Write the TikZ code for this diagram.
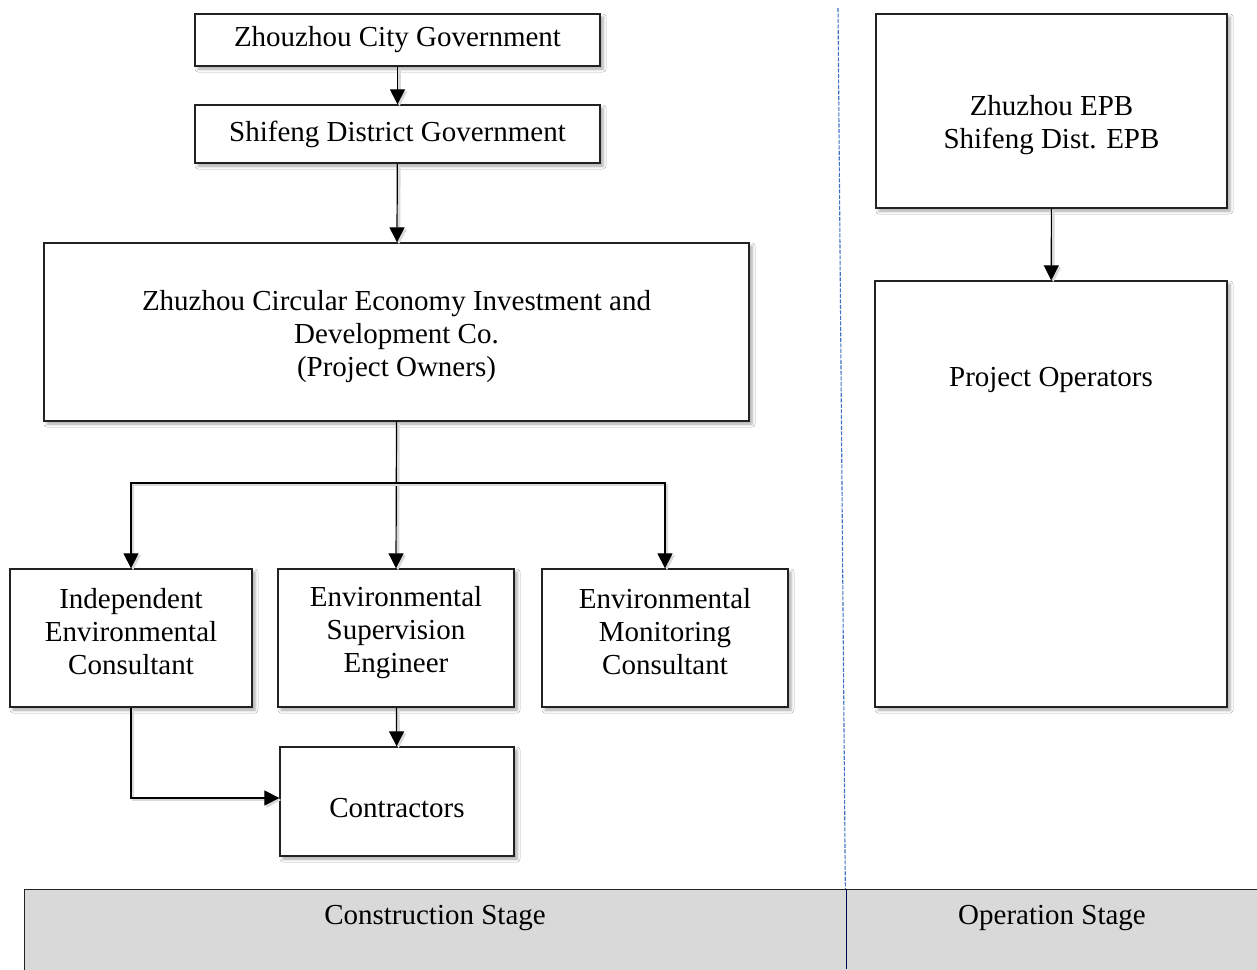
\documentclass[tikz,border=0pt]{standalone}
\usepackage{fontspec}
\setmainfont{Liberation Serif}
\usetikzlibrary{arrows.meta,shadows.blur}
\definecolor{bandgray}{HTML}{D9D9D9}
\definecolor{dashblue}{HTML}{3F73C2}
\definecolor{boxline}{HTML}{222222}
\tikzset{
  box/.style={draw=boxline, line width=1.3pt, fill=white, rectangle, inner sep=0pt,
    blur shadow={shadow xshift=3pt, shadow yshift=-3pt, shadow blur radius=3pt, shadow opacity=35}},
  txt/.style={font=\fontsize{29}{33}\selectfont, align=center, inner sep=0pt, text=black},
  lineshadow/.style={preaction={draw=black!15, line width=2.5pt, transform canvas={shift={(2pt,-2pt)}}}},
  arr/.style={line width=1.2pt, lineshadow, -{Triangle[width=15pt,length=15pt]}},
  conn/.style={line width=1.2pt, lineshadow},
}
\begin{document}
\begin{tikzpicture}[x=1pt,y=-1pt]
\useasboundingbox (0,0) rectangle (1257,969);
\fill[white] (0,0) rectangle (1257,969);

% divider line
\coordinate (dtop) at (838,8);
\coordinate (dbot) at (846,969);
\draw[dashblue, line width=1.1pt, dash pattern=on 4pt off 1.5pt] (dtop) -- (dbot);

% left column boxes
\node[box, txt, minimum width=405pt, minimum height=52pt] (cg) at (397.5,40) {Zhouzhou City Government};
\node[box, txt, minimum width=405pt, minimum height=58pt] (sd) at (397.5,134) {Shifeng District Government};
\node[box, minimum width=705pt, minimum height=178pt] (own) at (396.5,332) {};
\node[txt] (ownT) at (396.5,337) {Zhuzhou Circular Economy Investment and\\Development Co.\\(Project Owners)};

\node[box, minimum width=242pt, minimum height=138pt] (iec) at (131,638) {};
\node[txt] (iecT) at (131,632) {Independent\\Environmental\\Consultant};
\node[box, minimum width=236pt, minimum height=138pt] (ese) at (396,638) {};
\node[txt] (eseT) at (396,633) {Environmental\\Supervision\\Engineer};
\node[box, minimum width=246pt, minimum height=138pt] (emc) at (665,638) {};
\node[txt] (emcT) at (665,632) {Environmental\\Monitoring\\Consultant};

\node[box, minimum width=234pt, minimum height=109pt] (con) at (397,801.5) {};
\node[txt, anchor=base] (conT) at (397,817) {Contractors};

% right column boxes
\node[box, minimum width=351pt, minimum height=194pt] (epb) at (1051.5,111) {};
\node[txt] (epbT) at (1051.5,125) {Zhuzhou EPB\\Shifeng Dist. EPB};
\node[box, minimum width=352pt, minimum height=426pt] (ops) at (1051,494) {};
\node[txt, anchor=base] (opsT) at (1051,386) {Project Operators};

% connectors
\draw[arr] (cg) -- (sd);
\draw[arr] (sd) -- (own);
\coordinate (bus) at (396.5,483);
\draw[arr] (own.south) -- (ese.north);
\draw[arr] (bus) -| (iec.north);
\draw[arr] (bus) -| (emc.north);
\draw[arr] (ese) -- (con);
\coordinate (iecbend) at (131,798);
\draw[arr] (iec.south) -- (iecbend) -- (iecbend -| con.west);
\draw[arr] (epb) -- (ops);

% stage band
\node[draw=boxline, line width=1.2pt, fill=bandgray, rectangle, inner sep=0pt,
      anchor=north west, minimum width=1250pt, minimum height=100pt] (band) at (24,889) {};
\draw[black!70!blue, line width=1pt] (846,889) -- (846,969);
\node[txt] (cs) at (435,918) {Construction Stage};
\node[txt] (os) at (1052,918) {Operation Stage};
\end{tikzpicture}
\end{document}
